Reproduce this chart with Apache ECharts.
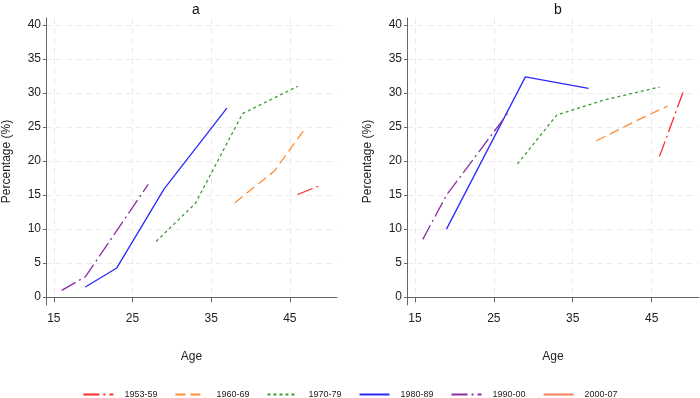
<!DOCTYPE html>
<html>
<head>
<meta charset="utf-8">
<script src="https://cdn.jsdelivr.net/npm/echarts@6/dist/echarts.min.js"></script>
<style>
html,body{margin:0;padding:0;background:#fff;}
#chart{width:700px;height:398px;}
</style>
</head>
<body>
<div id="chart"></div>
<script>
// Cohort names
var cohorts = ['1953-59', '1960-69', '1970-79', '1980-89', '1990-00', '2000-07'];
// Ages and values per cohort, panel a
var ageA_1953 = [46, 49];          var valA_1953 = [15.1, 16.5];
var ageA_1960 = [38, 43, 47];      var valA_1960 = [13.9, 18.5, 24.9];
var ageA_1970 = [28, 33, 39, 46];  var valA_1970 = [8.2, 13.8, 27.0, 31.0];
var ageA_1980 = [19, 23, 29, 37];  var valA_1980 = [1.5, 4.3, 15.9, 27.8];
var ageA_1990 = [16, 19, 23, 27];  var valA_1990 = [1.0, 3.0, 9.8, 16.6];
var ageA_2000 = [];                var valA_2000 = [];
// Panel b
var ageB_1953 = [46, 49];          var valB_1953 = [20.7, 30.2];
var ageB_1960 = [38, 43, 47];      var valB_1960 = [23.0, 25.9, 28.1];
var ageB_1970 = [28, 33, 39, 46];  var valB_1970 = [19.6, 26.8, 29.0, 30.9];
var ageB_1980 = [19, 29, 37];      var valB_1980 = [10.0, 32.4, 30.7];
var ageB_1990 = [16, 19, 27];      var valB_1990 = [8.5, 15.0, 27.4];
var ageB_2000 = [];                var valB_2000 = [];
// Tick labels
var xTicks = [15, 25, 35, 45];
var yTicks = [0, 5, 10, 15, 20, 25, 30, 35, 40];

var agesA = [ageA_1953, ageA_1960, ageA_1970, ageA_1980, ageA_1990, ageA_2000];
var valsA = [valA_1953, valA_1960, valA_1970, valA_1980, valA_1990, valA_2000];
var agesB = [ageB_1953, ageB_1960, ageB_1970, ageB_1980, ageB_1990, ageB_2000];
var valsB = [valB_1953, valB_1960, valB_1970, valB_1980, valB_1990, valB_2000];

var styles = [
  {color: '#ff2a2a', type: [16, 4, 2, 4]},
  {color: '#ff8c33', type: [10, 5]},
  {color: '#3c9b31', type: [3, 3]},
  {color: '#2a2aff', type: 'solid'},
  {color: '#8b2ea3', type: [16, 4, 2, 4]},
  {color: '#ff7f5a', type: 'solid'}
];

function pairs(xs, ys) { return xs.map(function (x, i) { return [x, ys[i]]; }); }

var font = 'Liberation Sans, Arial, sans-serif';
function xAxis(idx) {
  return {
    type: 'value', gridIndex: idx, min: 14, max: 51,
    name: 'Age', nameLocation: 'middle', nameGap: 46,
    nameTextStyle: {fontFamily: font, fontSize: 12, color: '#222'},
    axisLine: {show: true, lineStyle: {color: '#666', width: 1}},
    axisTick: {show: true, length: 5, customValues: xTicks, lineStyle: {color: '#666'}},
    axisLabel: {customValues: xTicks, margin: 8, fontFamily: font, fontSize: 12, color: '#222'},
    splitLine: {show: true, lineStyle: {color: '#ebebeb', type: [6, 4], width: 1}}
  };
}
function yAxis(idx) {
  return {
    type: 'value', gridIndex: idx, min: -1.15, max: 41.05,
    name: 'Percentage (%)', nameLocation: 'middle', nameGap: 33,
    nameTextStyle: {fontFamily: font, fontSize: 12, color: '#222'},
    axisLine: {show: true, lineStyle: {color: '#666', width: 1}},
    axisTick: {show: true, length: 3, customValues: yTicks, lineStyle: {color: '#666'}},
    axisLabel: {customValues: yTicks, margin: 5, fontFamily: font, fontSize: 12, color: '#222'},
    splitLine: {show: true, lineStyle: {color: '#ebebeb', type: [6, 4], width: 1}}
  };
}

var series = [];
[[agesA, valsA, 0], [agesB, valsB, 1]].forEach(function (p) {
  cohorts.forEach(function (name, i) {
    series.push({
      name: name, type: 'line', xAxisIndex: p[2], yAxisIndex: p[2],
      data: pairs(p[0][i], p[1][i]),
      symbol: 'none', showSymbol: false, silent: true, animation: false,
      color: styles[i].color,
      lineStyle: {color: styles[i].color, type: styles[i].type, width: 1.3}
    });
  });
});

var chart = echarts.init(document.getElementById('chart'), null, {renderer: 'canvas'});
chart.setOption({
  animation: false,
  backgroundColor: '#fff',
  title: [
    {text: 'a', left: 191, top: -2, textAlign: 'center', textStyle: {fontFamily: font, fontSize: 14, fontWeight: 'normal', color: '#111'}},
    {text: 'b', left: 553, top: -2, textAlign: 'center', textStyle: {fontFamily: font, fontSize: 14, fontWeight: 'normal', color: '#111'}}
  ],
  grid: [
    {left: 46, top: 18, width: 291, height: 287},
    {left: 407, top: 18, width: 292, height: 287}
  ],
  xAxis: [xAxis(0), xAxis(1)],
  yAxis: [yAxis(0), yAxis(1)],
  legend: {
    data: cohorts, left: 'center', top: 385,
    itemWidth: 30, itemHeight: 8, itemGap: 17,
    itemStyle: {opacity: 0},
    textStyle: {fontFamily: font, fontSize: 9, color: '#222', padding: [0, 0, 0, 6]}
  },
  series: series
});
</script>
</body>
</html>
